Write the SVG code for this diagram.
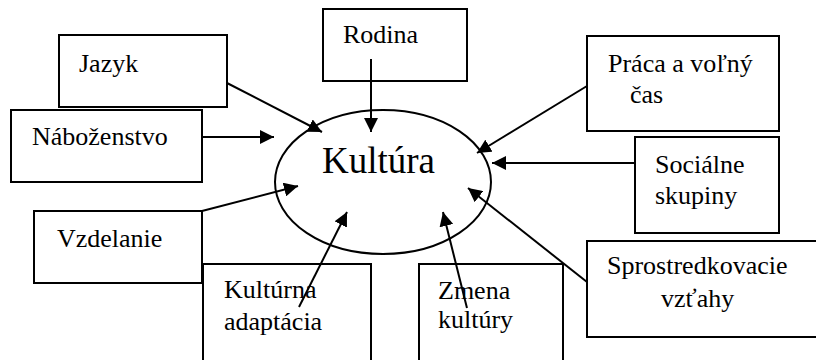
<svg xmlns="http://www.w3.org/2000/svg" width="816" height="360" viewBox="0 0 816 360">
  <style>
    .box { fill: #ffffff; stroke: #000000; stroke-width: 2; }
    .lbl { font-family: "Liberation Serif", "Times New Roman", serif; font-size: 26px; fill: #000000; }
    .big { font-size: 37px; }
    .arrow { stroke: #000000; stroke-width: 2; fill: none; marker-end: url(#head); }
  </style>
  <defs>
    <marker id="head" viewBox="0 0 14 14" refX="14" refY="7" markerWidth="14" markerHeight="14" markerUnits="userSpaceOnUse" orient="auto">
      <path d="M0,0 L14,7 L0,14 Z" fill="#000000"/>
    </marker>
  </defs>
  <rect width="816" height="360" fill="#ffffff"/>

  <g id="jazyk">
    <rect class="box" x="59" y="35" width="168" height="72"/>
    <text class="lbl" x="79" y="72">Jazyk</text>
  </g>
  <g id="nabozenstvo">
    <rect class="box" x="11" y="110" width="191" height="72"/>
    <text class="lbl" x="32" y="145">Náboženstvo</text>
  </g>
  <g id="rodina">
    <rect class="box" x="323" y="9" width="144" height="72"/>
    <text class="lbl" x="343" y="43">Rodina</text>
  </g>
  <g id="praca">
    <rect class="box" x="587" y="36" width="192" height="95"/>
    <text class="lbl" x="608" y="72">Práca a voľný</text>
    <text class="lbl" x="630" y="103">čas</text>
  </g>
  <g id="socialne">
    <rect class="box" x="635" y="137" width="144" height="96"/>
    <text class="lbl" x="655" y="173">Sociálne</text>
    <text class="lbl" x="655" y="204">skupiny</text>
  </g>
  <g id="vzdelanie">
    <rect class="box" x="34" y="211" width="168" height="72"/>
    <text class="lbl" x="57" y="247">Vzdelanie</text>
  </g>
  <g id="sprostredkovacie">
    <!-- runs past the right edge of the page -->
    <rect class="box" x="587" y="241" width="240" height="96"/>
    <text class="lbl" x="607" y="274">Sprostredkovacie</text>
    <text class="lbl" x="661" y="307">vzťahy</text>
  </g>
  <g id="adaptacia">
    <rect class="box" x="203" y="264" width="168" height="110"/>
    <text class="lbl" x="224" y="298">Kultúrna</text>
    <text class="lbl" x="224" y="330">adaptácia</text>
  </g>
  <g id="zmena">
    <rect class="box" x="419" y="264" width="144" height="110"/>
    <text class="lbl" x="438" y="299">Zmena</text>
    <text class="lbl" x="438" y="328">kultúry</text>
  </g>
  <g id="kultura">
    <ellipse cx="383" cy="182" rx="108" ry="72" fill="none" stroke="#000000" stroke-width="2"/>
    <text class="lbl big" x="322" y="173">Kultúra</text>
  </g>

  <g id="connectors">
    <line class="arrow" x1="227" y1="83" x2="322" y2="132"/>
    <line class="arrow" x1="371" y1="59" x2="371" y2="132"/>
    <line class="arrow" x1="202" y1="137" x2="274" y2="137"/>
    <line class="arrow" x1="202" y1="211" x2="298" y2="186"/>
    <line class="arrow" x1="299" y1="307" x2="347" y2="212"/>
    <line class="arrow" x1="467" y1="308" x2="443" y2="212"/>
    <line class="arrow" x1="587" y1="282" x2="468" y2="188"/>
    <line class="arrow" x1="635" y1="163" x2="492" y2="163"/>
    <line class="arrow" x1="587" y1="86" x2="477" y2="153"/>
  </g>
</svg>
